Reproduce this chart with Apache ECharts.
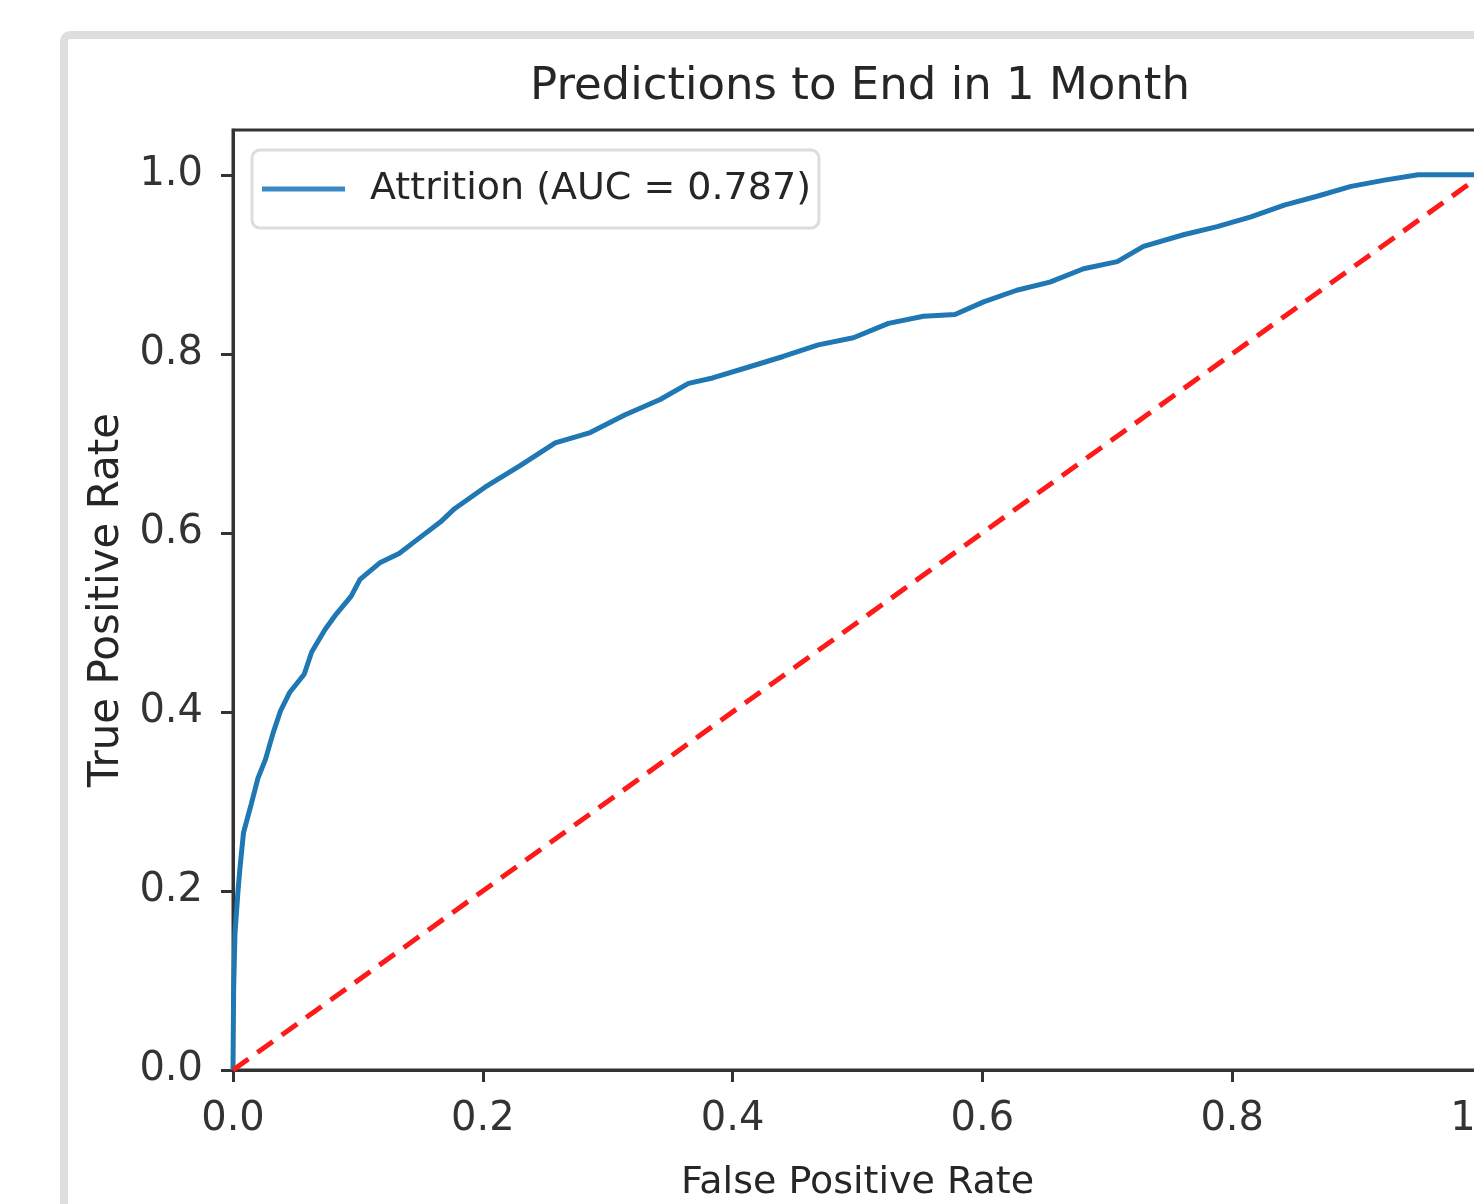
<!DOCTYPE html>
<html>
<head>
<meta charset="utf-8">
<script src="https://cdn.jsdelivr.net/npm/echarts@6/dist/echarts.min.js"></script>
<style>
html,body{margin:0;padding:0;background:#fff;}
#chart{width:1474px;height:1204px;}
</style>
</head>
<body>
<div id="chart"></div>
<script>
// ---- data ----
const titleText = 'Predictions to End in 1 Month';
const xName = 'False Positive Rate';
const yName = 'True Positive Rate';
const seriesName = 'Attrition (AUC = 0.787)';
const xTicks = [0, 0.2, 0.4, 0.6, 0.8, 1.0];
const yTicks = [0, 0.2, 0.4, 0.6, 0.8, 1.0];
const fpr = [0, 0.0005, 0.0016, 0.004, 0.0054, 0.0084, 0.0146, 0.020, 0.026, 0.032, 0.038, 0.0455, 0.057, 0.063, 0.0737, 0.0825, 0.0945, 0.1017, 0.118, 0.133, 0.148, 0.166, 0.1774, 0.2018, 0.2299, 0.258, 0.286, 0.314, 0.342, 0.3647, 0.384, 0.4123, 0.4405, 0.4686, 0.4967, 0.5248, 0.5528, 0.578, 0.601, 0.6275, 0.654, 0.681, 0.708, 0.729, 0.761, 0.788, 0.815, 0.8417, 0.868, 0.8951, 0.922, 0.9488, 0.975, 1.0];
const tpr = [0, 0.09, 0.153, 0.2, 0.223, 0.265, 0.297, 0.326, 0.347, 0.376, 0.401, 0.422, 0.442, 0.467, 0.492, 0.509, 0.529, 0.548, 0.567, 0.577, 0.593, 0.612, 0.627, 0.651, 0.675, 0.7005, 0.712, 0.732, 0.749, 0.767, 0.773, 0.785, 0.797, 0.81, 0.818, 0.834, 0.842, 0.844, 0.858, 0.871, 0.88, 0.895, 0.903, 0.92, 0.933, 0.942, 0.953, 0.966, 0.976, 0.987, 0.994, 1.0, 1.0, 1.0];
const chanceX = [0, 1];
const chanceY = [0, 1];

const FONT = "'DejaVu Sans', sans-serif";
const chart = echarts.init(document.getElementById('chart'), null, {renderer: 'canvas'});
const fmt = v => (Math.round(v * 10) / 10).toFixed(1);

chart.setOption({
  animation: false,
  backgroundColor: '#ffffff',
  graphic: [{
    type: 'rect', silent: true, z: -10,
    shape: {x: 64, y: 35, width: 1600, height: 1400, r: 6},
    style: {fill: '#ffffff', stroke: '#dedede', lineWidth: 8}
  }],
  title: {
    text: titleText,
    left: 855, top: 60,
    textAlign: 'center',
    textStyle: {fontFamily: FONT, fontSize: 45, fontWeight: 'normal', color: '#262626'}
  },
  legend: {
    data: [{name: seriesName, icon: 'rect'}],
    left: 252, top: 150,
    itemWidth: 83, itemHeight: 5,
    padding: [19, 8, 19, 10],
    backgroundColor: '#ffffff',
    borderColor: '#dddddd', borderWidth: 3, borderRadius: 8,
    textStyle: {fontFamily: FONT, fontSize: 38, color: '#262626', padding: [0, 0, 0, 20], lineHeight: 40}
  },
  grid: {
    left: 233, top: 130, width: 1249, height: 940,
    outerBoundsMode: 'none', containLabel: false,
    show: true, borderColor: '#333333', borderWidth: 3, backgroundColor: 'transparent'
  },
  xAxis: {
    type: 'value', min: 0, max: 1,
    name: xName, nameLocation: 'middle', nameGap: 94,
    nameTextStyle: {fontFamily: FONT, fontSize: 38, color: '#262626'},
    axisLine: {show: true, onZero: false, lineStyle: {color: '#333333', width: 3}},
    axisTick: {show: true, inside: false, length: 12, lineStyle: {color: '#333333', width: 3}, customValues: xTicks},
    axisLabel: {show: true, margin: 30, fontFamily: FONT, fontSize: 40, color: '#333333', customValues: xTicks, formatter: fmt},
    splitLine: {show: false}
  },
  yAxis: {
    type: 'value', min: 0, max: 1.05,
    name: yName, nameLocation: 'middle', nameGap: 98, nameRotate: 90,
    nameTextStyle: {fontFamily: FONT, fontSize: 42, color: '#262626'},
    axisLine: {show: true, onZero: false, lineStyle: {color: '#333333', width: 3}},
    axisTick: {show: true, inside: false, length: 12, lineStyle: {color: '#333333', width: 3}, customValues: yTicks},
    axisLabel: {show: true, margin: 30, fontFamily: FONT, fontSize: 40, color: '#333333', customValues: yTicks, formatter: fmt},
    splitLine: {show: false}
  },
  series: [
    {
      name: seriesName, type: 'line',
      data: fpr.map((x, i) => [x, tpr[i]]),
      showSymbol: false, symbol: 'none', smooth: false,
      lineStyle: {color: '#1f77b4', width: 5},
      itemStyle: {color: '#3a8ac6'},
      z: 3
    },
    {
      name: 'chance', type: 'line',
      data: chanceX.map((x, i) => [x, chanceY[i]]),
      showSymbol: false, symbol: 'none',
      lineStyle: {color: '#ff1a1a', width: 5, type: [19, 11]},
      z: 4
    }
  ]
});
</script>
</body>
</html>
